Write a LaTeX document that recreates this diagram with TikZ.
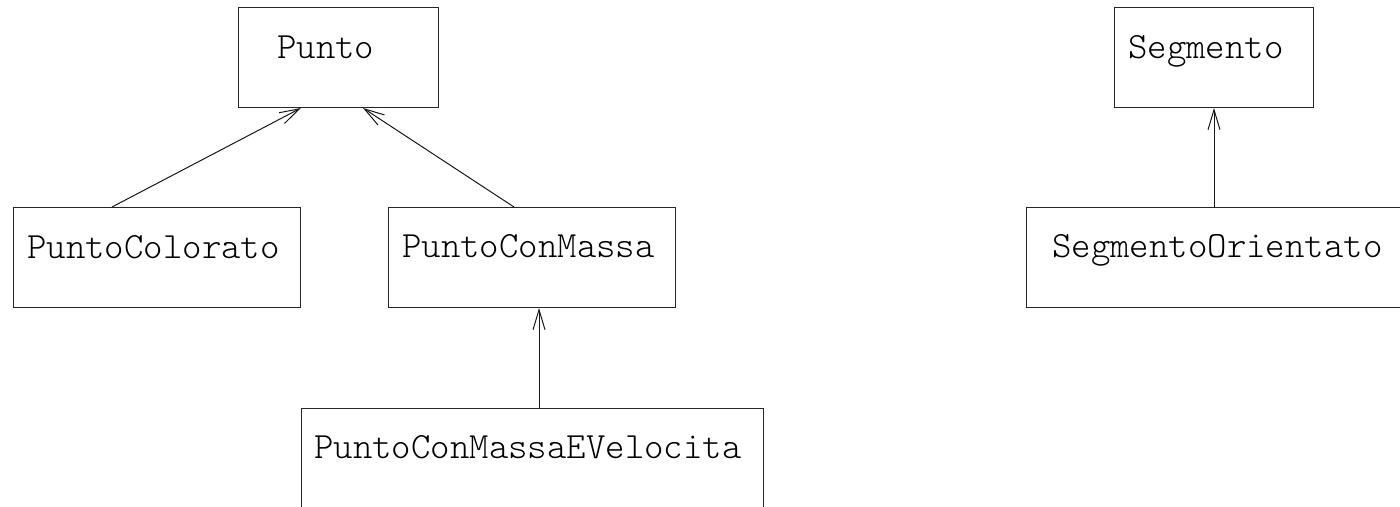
\documentclass[tikz,border=0pt]{standalone}
\usepackage{fontspec}
\setmonofont{Latin Modern Mono Light}
\usetikzlibrary{arrows.meta,calc}
\tikzset{
  classbox/.style={draw=black!85, line width=1pt, rectangle, inner sep=0pt, anchor=north west},
  classname/.style={inner sep=0pt, anchor=base west, font=\ttfamily\fontsize{37}{42}\selectfont},
  inh/.style={draw=black!90, line width=1pt, -{Straight Barb[length=20pt,width=12pt,line width=1pt]}}
}
\begin{document}
\begin{tikzpicture}[x=1pt,y=-1pt]
\clip (0,0) rectangle (1400,506);
\fill[white] (0,0) rectangle (1400,506);
% boxes
\node[classbox, minimum width=200pt, minimum height=100pt] (punto) at (238,7) {};
\node[classbox, minimum width=287pt, minimum height=100pt] (pc) at (13,207) {};
\node[classbox, minimum width=287pt, minimum height=100pt] (pcm) at (388,207) {};
\node[classbox, minimum width=462pt, minimum height=130pt] (pcmv) at (301,408) {};
\node[classbox, minimum width=199pt, minimum height=100pt] (seg) at (1114,7) {};
\node[classbox, minimum width=400pt, minimum height=100pt] (so) at (1026,207) {};
% names
\node[classname] (tpunto) at ($(punto.north west)+(39,51)$) {Punto};
\node[classname] (tpc) at ($(pc.north west)+(14,51)$) {PuntoColorato};
\node[classname] (tpcm) at ($(pcm.north west)+(14,50)$) {PuntoConMassa};
\node[classname] (tpcmv) at ($(pcmv.north west)+(13,50)$) {PuntoConMassaEVelocita};
\node[classname] (tseg) at ($(seg.north west)+(14,51)$) {Segmento};
\node[classname] (tso) at ($(so.north west)+(26,50)$) {SegmentoOrientato};
% inheritance arrows
\draw[inh] ($(pc.north west)+(99,0)$) -- ($(punto.south west)+(63,0)$);
\draw[inh] ($(pcm.north west)+(126,0)$) -- ($(punto.south west)+(125,0)$);
\draw[inh] ($(pcmv.north west)+(238,0)$) -- ($(pcm.south west)+(151,0)$);
\draw[inh] ($(so.north west)+(188,0)$) -- ($(seg.south west)+(100,0)$);
\end{tikzpicture}
\end{document}
